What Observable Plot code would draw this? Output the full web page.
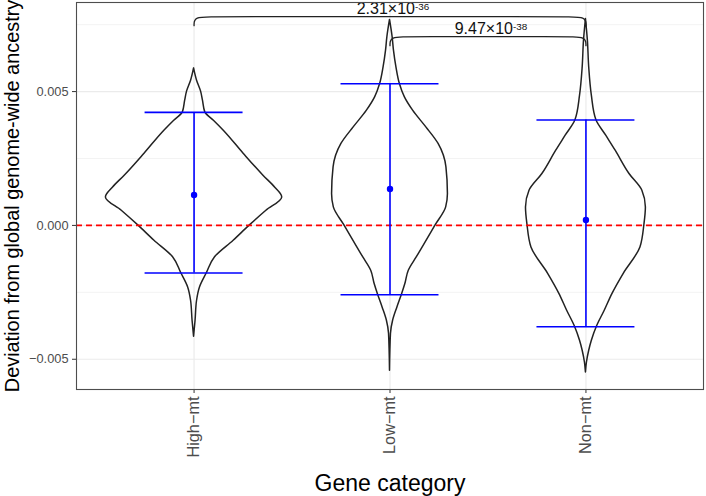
<!DOCTYPE html>
<html>
<head>
<meta charset="utf-8">
<script src="https://cdn.jsdelivr.net/npm/d3@7"></script>
<script src="https://cdn.jsdelivr.net/npm/@observablehq/plot@0.6"></script>
<style>
  html, body { margin: 0; padding: 0; background: #fff; }
  #chart { width: 706px; height: 496px; }
</style>
</head>
<body>
<div id="chart"></div>
<script>
// ---- data ----
const categories = ["High-mt", "Low-mt", "Non-mt"];

// violin outlines: value and relative density (1 = widest violin)
const highValues = [0.005867, 0.005407, 0.005008, 0.00466, 0.004223, 0.003913, 0.003539, 0.002679, 0.001857, 0.001409, 0.001046, 0.000549, 0, -0.000572, -0.001196, -0.001779, -0.002317, -0.002814, -0.003562, -0.004159];
const highDensity = [0, 0.034, 0.079, 0.101, 0.127, 0.225, 0.337, 0.562, 0.787, 0.921, 1.0, 0.82, 0.633, 0.449, 0.236, 0.146, 0.067, 0.034, 0.017, 0];

const lowValues = [0.007676, 0.007026, 0.006529, 0.005904, 0.005284, 0.004783, 0.004286, 0.003662, 0.003042, 0.002167, 0.001173, 0.000673, 0.000026, -0.000822, -0.001196, -0.001693, -0.00219, -0.00259, -0.003064, -0.003562, -0.004047, -0.00543];
const lowDensity = [0, 0.03, 0.045, 0.073, 0.112, 0.169, 0.262, 0.412, 0.551, 0.64, 0.657, 0.637, 0.522, 0.371, 0.303, 0.213, 0.174, 0.135, 0.084, 0.035, 0.011, 0];

const nonValues = [0.007713, 0.006902, 0.005904, 0.004847, 0.003939, 0.003352, 0.002792, 0.001921, 0.001297, 0.000673, 0.000026, -0.000822, -0.001816, -0.002564, -0.003188, -0.003786, -0.00431, -0.004683, -0.00513, -0.005493];
const nonDensity = [0, 0.022, 0.037, 0.067, 0.118, 0.23, 0.337, 0.494, 0.64, 0.68, 0.663, 0.618, 0.427, 0.3, 0.213, 0.124, 0.067, 0.037, 0.011, 0];

// mean and error bar limits
const means = [0.001136, 0.00136, 0.000202];
const lowerLimits = [-0.001779, -0.00259, -0.003786];
const upperLimits = [0.004223, 0.005295, 0.003939];

// significance brackets
const compFrom = ["High-mt", "Low-mt"];
const compTo = ["Non-mt", "Non-mt"];
const compTop = [0.0078, 0.007052];
const compEnd = [0.007463, 0.006715];
const compLabels = ["2.31×10^-36", "9.47×10^-38"];

// axis ticks
const yTicks = [-0.005, 0, 0.005];
const yMinorTicks = [-0.0025, 0.0025, 0.0075];

// ---- build tables ----
const idx = c => categories.indexOf(c) + 1;
const maxHalf = 0.45;
function violin(cat, vals, dens) {
  return vals.map((v, i) => ({cat, i: idx(cat), v, d: dens[i]})).sort((a, b) => a.v - b.v);
}
const violins = [
  violin("High-mt", highValues, highDensity),
  violin("Low-mt", lowValues, lowDensity),
  violin("Non-mt", nonValues, nonDensity)
];
const stats = categories.map((c, k) => ({i: k + 1, mean: means[k], lo: lowerLimits[k], hi: upperLimits[k]}));
const capRows = stats.flatMap(s => [{i: s.i, y: s.lo}, {i: s.i, y: s.hi}]);

const r = 0.1;
const brackets = compFrom.map((f, k) => {
  const x1 = idx(f), x2 = idx(compTo[k]);
  return [
    {k, x: x1, y: compEnd[k]}, {k, x: x1, y: compTop[k]}, {k, x: x1 + r, y: compTop[k]},
    {k, x: x2 - r, y: compTop[k]}, {k, x: x2, y: compTop[k]}, {k, x: x2, y: compEnd[k]}
  ];
});
const bracketLabels = compFrom.map((f, k) => ({x: (idx(f) + idx(compTo[k])) / 2, y: compTop[k], t: compLabels[k]}));

const ink = "#222";
const marks = [
  Plot.gridY(yMinorTicks, {stroke: "#ebebeb", strokeOpacity: 1, strokeWidth: 0.6}),
  Plot.gridY(yTicks, {stroke: "#ebebeb", strokeOpacity: 1, strokeWidth: 1.2}),
  Plot.gridX([1, 2, 3], {stroke: "#ebebeb", strokeOpacity: 1, strokeWidth: 1.2}),
  ...violins.map(vd => Plot.areaX(vd, {
    y: "v", x1: d => d.i - d.d * maxHalf, x2: d => d.i + d.d * maxHalf,
    curve: "monotone-y", fill: "none", stroke: ink, strokeWidth: 1.5
  })),
  Plot.ruleY([0], {stroke: "#ff0000", strokeWidth: 1.8, strokeDasharray: "6,4"}),
  Plot.ruleX(stats, {x: "i", y1: "lo", y2: "hi", stroke: "#0000ff", strokeWidth: 1.6}),
  Plot.ruleY(capRows, {y: "y", x1: d => d.i - 0.25, x2: d => d.i + 0.25, stroke: "#0000ff", strokeWidth: 1.6}),
  Plot.dot(stats, {x: "i", y: "mean", r: 3.2, fill: "#0000ff", stroke: "none"}),
  ...brackets.map(b => Plot.line(b, {x: "x", y: "y", curve: "basis", stroke: ink, strokeWidth: 1.3})),
  Plot.text(bracketLabels, {x: "x", y: "y", text: "t", dx: 3, dy: -2.5, lineAnchor: "bottom", textAnchor: "middle", fontSize: 16, fill: "#111"}),
  Plot.axisY(yTicks, {
    tickFormat: d => d === 0 ? "0.000" : d3.format(".3f")(d),
    tickSize: 4, tickPadding: 4, fontSize: 12.8, color: "#4d4d4d", stroke: "#333", label: null
  }),
  Plot.axisX([1, 2, 3], {
    tickFormat: i => categories[i - 1].replace("-", "\u2212"),
    tickRotate: -90, tickSize: 4, tickPadding: 3, fontSize: 16.3, color: "#4d4d4d", stroke: "#333", label: null
  }),
  Plot.frame({stroke: "#4d4d4d", strokeWidth: 1.1}),
  Plot.text(["Deviation from global genome-wide ancestry"], {
    text: d => d, frameAnchor: "left", rotate: -90, dx: -58, lineAnchor: "bottom",
    textAnchor: "middle", fontSize: 19.9, fill: "#000"
  }),
  Plot.text(["Gene category"], {
    text: d => d, frameAnchor: "bottom", dy: 101, lineAnchor: "bottom",
    textAnchor: "middle", fontSize: 23, fill: "#000"
  })
];

const svg = Plot.plot({
  width: 706,
  height: 496,
  marginLeft: 76,
  marginRight: 3,
  marginTop: 2,
  marginBottom: 107,
  style: {fontFamily: "'Liberation Sans', Arial, sans-serif", background: "#fff", overflow: "visible"},
  x: {type: "linear", domain: [0.4, 3.6], axis: null},
  y: {domain: [-0.00613, 0.008328], axis: null},
  marks
});

// superscripts in p-value labels
svg.querySelectorAll("text").forEach(t => {
  const s = t.textContent;
  if (s.includes("^")) {
    const [base, sup] = s.split("^");
    t.textContent = base;
    const ts = document.createElementNS("http://www.w3.org/2000/svg", "tspan");
    ts.setAttribute("dy", "-0.45em");
    ts.setAttribute("font-size", "0.62em");
    ts.textContent = sup;
    t.appendChild(ts);
  }
});

document.getElementById("chart").appendChild(svg);
</script>
</body>
</html>
